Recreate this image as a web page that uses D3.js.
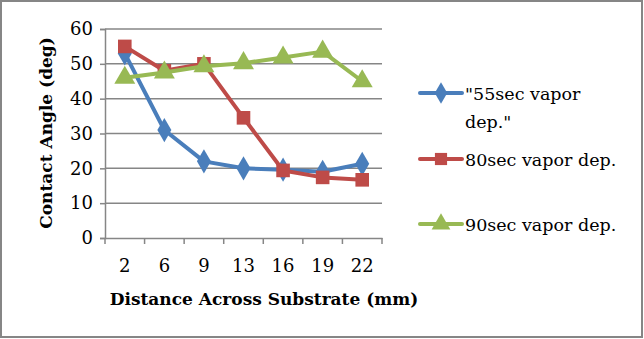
<!DOCTYPE html>
<html>
<head>
<meta charset="utf-8">
<script src="https://cdnjs.cloudflare.com/ajax/libs/d3/7.8.5/d3.min.js"></script>
<style>
  body { margin: 0; background: #fff; }
  svg { display: block; }
</style>
</head>
<body>
<span></span>
<script>
// data
var distances = ["2", "6", "9", "13", "16", "19", "22"];
var yTicks = [0, 10, 20, 30, 40, 50, 60];
var seriesNames = ["\"55sec vapor dep.\"", "80sec vapor dep.", "90sec vapor dep."];
var vapor55 = [53, 31, 22, 20, 19.6, 19, 21.3];
var vapor80 = [55, 48, 50, 34.5, 19.4, 17.4, 16.7];
var vapor90 = [46, 47.5, 49.3, 50.2, 51.8, 53.5, 45];

var width = 644;
var height = 339;
var font = "'DejaVu Serif', serif";
var colors = ["#4A7EBB", "#BE4B48", "#98B954"];
var shapes = [d3.symbolDiamond, d3.symbolSquare, d3.symbolTriangle];
var markerSize = [170, 185, 190];

var series = [vapor55, vapor80, vapor90].map(function(vals, i) {
    return {name: seriesNames[i], values: vals, color: colors[i], shape: shapes[i], size: markerSize[i]};
});

var svg = d3.select("span")
    .append("svg")
    .attr("width", width)
    .attr("height", height);

// outer frame
svg.append("rect")
    .attr("x", 1).attr("y", 1)
    .attr("width", 641).attr("height", 336)
    .attr("fill", "#fff")
    .attr("stroke", "#868686")
    .attr("stroke-width", 2);

var x = d3.scaleBand().domain(distances).range([105, 382]);
var y = d3.scaleLinear().domain([0, 60]).range([238, 29]);

// gridlines
svg.append("g")
    .selectAll("line")
    .data(yTicks.slice(1))
    .enter()
    .append("line")
    .attr("x1", 105).attr("x2", 382)
    .attr("y1", function(d) { return y(d); })
    .attr("y2", function(d) { return y(d); })
    .attr("stroke", "#868686")
    .attr("stroke-width", 1.5);

// y axis
var yAxis = svg.append("g")
    .attr("transform", "translate(105,0)")
    .call(d3.axisLeft(y).tickValues(yTicks).tickSize(5).tickPadding(7));
yAxis.select(".domain").attr("stroke", "#868686").attr("stroke-width", 1.5);
yAxis.selectAll(".tick line").attr("stroke", "#868686").attr("stroke-width", 1.5);
yAxis.selectAll("text")
    .attr("font-family", font)
    .attr("font-size", 18)
    .attr("fill", "#000");

// x axis
var xAxis = svg.append("g")
    .attr("transform", "translate(0,238)")
    .call(d3.axisBottom(x).tickSize(0).tickPadding(21));
xAxis.select(".domain").attr("stroke", "#868686").attr("stroke-width", 1.5);
xAxis.selectAll("text")
    .attr("font-family", font)
    .attr("font-size", 18)
    .attr("fill", "#000");

// category separators on the x axis
svg.append("g")
    .selectAll("line")
    .data(distances.concat(["end"]))
    .enter()
    .append("line")
    .attr("x1", function(d, i) { return 105 + i * x.step(); })
    .attr("x2", function(d, i) { return 105 + i * x.step(); })
    .attr("y1", 238).attr("y2", 244)
    .attr("stroke", "#868686")
    .attr("stroke-width", 1.5);

// axis titles
svg.append("text")
    .attr("x", 264).attr("y", 305)
    .attr("text-anchor", "middle")
    .attr("font-family", font)
    .attr("font-weight", "bold")
    .attr("font-size", 17)
    .text("Distance Across Substrate (mm)");

svg.append("text")
    .attr("transform", "translate(52,133) rotate(-90)")
    .attr("text-anchor", "middle")
    .attr("font-family", font)
    .attr("font-weight", "bold")
    .attr("font-size", 17)
    .text("Contact Angle (deg)");

var line = d3.line()
    .x(function(d, i) { return x(distances[i]) + x.bandwidth() / 2; })
    .y(function(d) { return y(d); });

var plot = svg.append("g");

series.forEach(function(s) {
    plot.append("path")
        .attr("d", line(s.values))
        .attr("fill", "none")
        .attr("stroke", s.color)
        .attr("stroke-width", 4)
        .attr("stroke-linejoin", "round");

    plot.append("g")
        .selectAll("path")
        .data(s.values)
        .enter()
        .append("path")
        .attr("d", d3.symbol().type(s.shape).size(s.size))
        .attr("transform", function(d, i) {
            return "translate(" + (x(distances[i]) + x.bandwidth() / 2) + "," + y(d) + ")";
        })
        .attr("fill", s.color);
});

// legend
var legendY = [93, 159, 224];
var legend = svg.append("g")
    .selectAll("g")
    .data(series)
    .enter()
    .append("g")
    .attr("transform", function(d, i) { return "translate(0," + legendY[i] + ")"; });

legend.append("line")
    .attr("x1", 420).attr("x2", 462)
    .attr("y1", 0).attr("y2", 0)
    .attr("stroke", function(d) { return d.color; })
    .attr("stroke-width", 4)
    .attr("stroke-linecap", "round");

legend.append("path")
    .attr("d", function(d) { return d3.symbol().type(d.shape).size(d.size * 0.8)(); })
    .attr("transform", "translate(441,0)")
    .attr("fill", function(d) { return d.color; });

legend.append("text")
    .attr("x", 465)
    .attr("font-family", font)
    .attr("font-size", 17.5)
    .attr("fill", "#000")
    .each(function(d, i) {
        var t = d3.select(this);
        if (i === 0) {
            t.append("tspan").attr("x", 465).attr("y", 7).text("\"55sec vapor");
            t.append("tspan").attr("x", 465).attr("y", 35).text("dep.\"");
        } else {
            t.attr("y", 7).text(d.name);
        }
    });
</script>
</body>
</html>
